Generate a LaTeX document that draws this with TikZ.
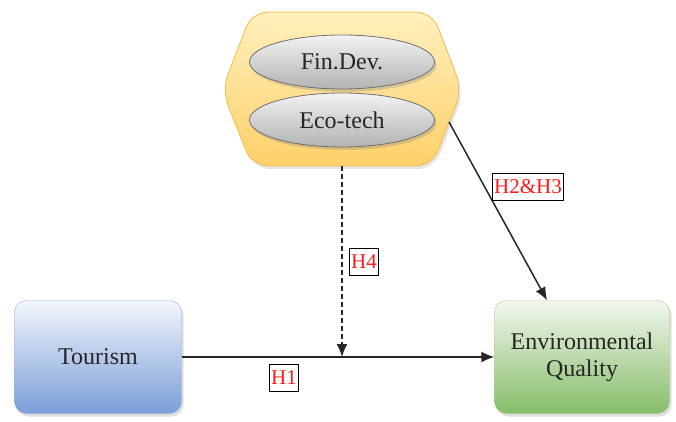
\documentclass[tikz,border=0pt]{standalone}
\usepackage{fontspec}
\setmainfont{Liberation Serif}
\usetikzlibrary{arrows.meta,shapes.geometric,shadows}

\definecolor{hexedge}{HTML}{F2BE4E}
\definecolor{hextop}{HTML}{FFF0BC}
\definecolor{hexbot}{HTML}{FFD06A}
\definecolor{ovaledge}{HTML}{6F6F6F}
\definecolor{tourtop}{HTML}{F3F6FC}
\definecolor{tourmid}{HTML}{B4C8EA}
\definecolor{tourbot}{HTML}{7A9ED8}
\definecolor{touredge}{HTML}{9AB3DF}
\definecolor{envtop}{HTML}{F2F7EE}
\definecolor{envmid}{HTML}{C2DEB2}
\definecolor{envbot}{HTML}{86BD69}
\definecolor{envedge}{HTML}{ADD195}
\definecolor{hypred}{HTML}{FF1A1A}

\begin{document}
\begin{tikzpicture}[
  x=1pt, y=-1pt,
  bigbox/.style={draw, rounded corners=12pt, minimum height=113pt, align=center,
    font=\fontsize{24}{27}\selectfont, text=black!85,
    drop shadow={shadow xshift=2pt, shadow yshift=-3pt, opacity=0.25}},
  oval/.style={ellipse, draw=ovaledge, thick, minimum width=185pt, minimum height=54pt,
    top color=white!95!black, bottom color=black!30, font=\fontsize{24}{27}\selectfont,
    text=black!85, drop shadow={shadow xshift=2pt, shadow yshift=-3pt, opacity=0.3}},
  hyp/.style={draw, fill=white, line width=1.2pt, text=hypred, inner sep=2pt, minimum height=27pt,
    font=\fontsize{21}{21}\selectfont},
  arrow/.style={-{Latex[length=13pt, width=11pt]}, line width=1.5pt, black!85},
  modarrow/.style={arrow, dash pattern=on 5pt off 3pt}
]
% moderator hexagon
\path[draw=hexedge, thick, rounded corners=16pt, top color=hextop, bottom color=hexbot,
  drop shadow={shadow xshift=2pt, shadow yshift=-3pt, opacity=0.2}]
  (342,12) -- (432,12) -- (462,90) -- (432,166) -- (252,166) -- (222,90) -- (252,12) -- cycle;
\coordinate (hexS) at (342,166);
\coordinate (hexE) at (449,122);

\node[oval] (fin) at (342,62) {Fin.Dev.};
\node[oval] (eco) at (342,120) {Eco-tech};

\node[bigbox, minimum width=167pt, draw=touredge, top color=tourtop, middle color=tourmid,
  bottom color=tourbot] (tour) at (98,357) {Tourism};
\node[bigbox, minimum width=175pt, draw=envedge, top color=envtop, middle color=envmid,
  bottom color=envbot] (env) at (582,357) {Environmental\\Quality};

\coordinate (meet) at (342,357);

\draw[arrow] (tour) -- (env);
\draw[modarrow] (hexS) -- (meet);
\draw[arrow] (hexE) -- ([xshift=-35pt]env.north);

\node[hyp] (h1) at (284,378) {H1};
\node[hyp] (h4) at (364,262) {H4};
\node[hyp] (h23) at (528,187) {H2\&H3};

\useasboundingbox (0,0) rectangle (676,422);
\end{tikzpicture}
\end{document}
